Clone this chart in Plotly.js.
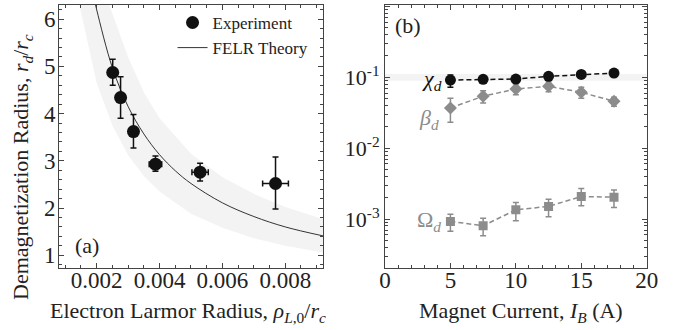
<!DOCTYPE html>
<html>
<head>
<meta charset="utf-8">
<script src="https://cdn.plot.ly/plotly-3.0.1.min.js"></script>
<style>html,body{margin:0;padding:0;background:#fff;}#chart{width:674px;height:330px;}</style>
</head>
<body>
<div id="chart"></div>
<script>
// ---- Panel (a) data ----
var expX = [0.00251, 0.00276, 0.00317, 0.00387, 0.00529, 0.00769];
var expY = [4.87, 4.34, 3.62, 2.93, 2.76, 2.52];
var expYplus = [0.28, 0.44, 0.36, 0.17, 0.19, 0.56];
var expYminus = [0.27, 0.44, 0.35, 0.15, 0.19, 0.54];
var expXerr = [0, 0, 0, 0.0002, 0.00026, 0.00041];

var theoryX = [0.0019, 0.002, 0.0025, 0.003, 0.0035, 0.004, 0.0045, 0.005, 0.006, 0.007, 0.008, 0.0092];
var theoryY = [6.5, 6.2, 4.97, 4.15, 3.57, 3.13, 2.79, 2.52, 2.11, 1.82, 1.6, 1.41];

var bandLowX = [0.00145, 0.002, 0.0025, 0.003, 0.0035, 0.004, 0.005, 0.006, 0.007, 0.008, 0.0092];
var bandLowY = [6.3, 4.65, 3.75, 3.12, 2.68, 2.35, 1.88, 1.58, 1.36, 1.2, 1.06];
var bandHighX = [0.0024, 0.003, 0.0035, 0.004, 0.005, 0.006, 0.007, 0.008, 0.0092];
var bandHighY = [6.3, 5.2, 4.45, 3.9, 3.15, 2.65, 2.3, 2.02, 1.77];

// ---- Panel (b) data ----
var current = [5, 7.5, 10, 12.5, 15, 17.5];
var chiY = [0.0916, 0.0937, 0.0946, 0.1033, 0.110, 0.1148];
var chiHi = [0.1077, 0.0937, 0.0946, 0.1033, 0.110, 0.1148];
var chiLo = [0.0723, 0.0937, 0.0946, 0.1033, 0.110, 0.1148];
var betaY = [0.0370, 0.0541, 0.0684, 0.0747, 0.0615, 0.0459];
var betaHi = [0.0507, 0.0649, 0.0805, 0.0867, 0.0723, 0.0524];
var betaLo = [0.0233, 0.0435, 0.0569, 0.0626, 0.0507, 0.0391];
var omegaY = [0.000928, 0.000805, 0.00135, 0.00151, 0.00208, 0.00204];
var omegaHi = [0.00117, 0.00103, 0.00172, 0.00191, 0.00270, 0.00258];
var omegaLo = [0.000671, 0.000582, 0.000946, 0.00108, 0.00154, 0.00146];
var chiBandX = [0, 20, 20, 0];
var chiBandY = [0.0896, 0.0896, 0.111, 0.111];

var yTickVals = [1, 0.1, 0.01, 0.001];
var yTickText = ['1', '10<sup>-1</sup>', '10<sup>-2</sup>', '10<sup>-3</sup>'];

var xTitleA = 'Electron Larmor Radius, <i>ρ</i><sub><i>L</i>,0</sub>/<i>r</i><sub><i>c</i></sub>';
var yTitleA = 'Demagnetization Radius, <i>r</i><sub><i>d</i></sub>/<i>r</i><sub><i>c</i></sub>';
var xTitleB = 'Magnet Current, <i>I</i><sub><i>B</i></sub> (A)';

function diff(a, b) { return a.map(function (v, i) { return Math.max(0, v - b[i]); }); }

var frame = '#444';
var grey = '#8c8c8c';
var serif = 'Liberation Serif';
var ink = '#222';

var bandPolyX = bandLowX.concat(bandHighX.slice().reverse());
var bandPolyY = bandLowY.concat(bandHighY.slice().reverse());

var traces = [
  {x: bandPolyX, y: bandPolyY, xaxis: 'x', yaxis: 'y', mode: 'lines', fill: 'toself',
   fillcolor: '#f3f3f3', line: {width: 0, color: 'rgba(0,0,0,0)'}, showlegend: false, hoverinfo: 'skip'},
  {x: theoryX, y: theoryY, xaxis: 'x', yaxis: 'y', mode: 'lines', name: 'FELR Theory',
   line: {color: '#333', width: 1, shape: 'spline'}},
  {x: expX, y: expY, xaxis: 'x', yaxis: 'y', mode: 'markers', name: 'Experiment',
   marker: {color: '#111', size: 13, symbol: 'circle'},
   error_y: {type: 'data', array: expYplus, arrayminus: expYminus, color: '#111', thickness: 1.5, width: 3},
   error_x: {type: 'data', array: expXerr, color: '#111', thickness: 1.5, width: 3}},
  // panel b
  {x: chiBandX, y: chiBandY, xaxis: 'x2', yaxis: 'y2', mode: 'lines', fill: 'toself',
   fillcolor: '#f3f3f3', line: {width: 0, color: 'rgba(0,0,0,0)'}, showlegend: false, hoverinfo: 'skip'},
  {x: current, y: omegaY, xaxis: 'x2', yaxis: 'y2', mode: 'lines+markers', showlegend: false,
   line: {color: grey, width: 1.5, dash: '5px,3px'},
   marker: {color: grey, size: 9, symbol: 'square'},
   error_y: {type: 'data', array: diff(omegaHi, omegaY), arrayminus: diff(omegaY, omegaLo), color: grey, thickness: 1.5, width: 3}},
  {x: current, y: betaY, xaxis: 'x2', yaxis: 'y2', mode: 'lines+markers', showlegend: false,
   line: {color: grey, width: 1.5, dash: '5px,3px'},
   marker: {color: grey, size: 10, symbol: 'diamond'},
   error_y: {type: 'data', array: diff(betaHi, betaY), arrayminus: diff(betaY, betaLo), color: grey, thickness: 1.5, width: 3}},
  {x: current, y: chiY, xaxis: 'x2', yaxis: 'y2', mode: 'lines+markers', showlegend: false,
   line: {color: '#111', width: 1.5, dash: '5px,3px'},
   marker: {color: '#111', size: 11, symbol: 'circle'},
   error_y: {type: 'data', array: diff(chiHi, chiY), arrayminus: diff(chiY, chiLo), color: '#111', thickness: 1.5, width: 3}}
];

function axisBase() {
  return {
    showline: true, linecolor: frame, linewidth: 1, mirror: 'allticks',
    ticks: 'inside', ticklen: 5, tickwidth: 1, tickcolor: frame,
    showgrid: false, zeroline: false, automargin: false,
    tickfont: {family: serif, size: 23, color: ink}
  };
}

var xa = Object.assign(axisBase(), {
  domain: [0.0875, 0.4792], range: [0.0008, 0.0092], anchor: 'y',
  tickmode: 'linear', tick0: 0, dtick: 0.002, ticklabelstandoff: -9,
  minor: {ticks: 'inside', ticklen: 3, tickcolor: frame, tick0: 0, dtick: 0.0005, showgrid: false}
});
var ya = Object.assign(axisBase(), {
  domain: [0.1879, 0.9848], range: [0.73, 6.3], anchor: 'x',
  tickmode: 'linear', tick0: 0, dtick: 1, ticklabelstandoff: -2,
  minor: {ticks: 'inside', ticklen: 3, tickcolor: frame, tick0: 0, dtick: 0.2, showgrid: false}
});
var xa2 = Object.assign(axisBase(), {
  domain: [0.5712, 0.9595], range: [0, 20], anchor: 'y2',
  tickmode: 'linear', tick0: 0, dtick: 5, ticklabelstandoff: -9,
  minor: {ticks: 'inside', ticklen: 3, tickcolor: frame, tick0: 0, dtick: 1, showgrid: false}
});
var ya2 = Object.assign(axisBase(), {
  domain: [0.1879, 0.9848], type: 'log', range: [-3.69, 0.02], anchor: 'x2',
  tickmode: 'array', tickvals: yTickVals, ticktext: yTickText,
  tickfont: {family: serif, size: 22, color: ink},
  minor: {ticks: 'inside', ticklen: 3, tickcolor: frame, dtick: 'D1', showgrid: false}
});

function note(o) {
  return Object.assign({showarrow: false, font: {family: serif, size: 22, color: ink}}, o);
}

var layout = {
  width: 674, height: 330,
  margin: {l: 0, r: 0, t: 0, b: 0},
  paper_bgcolor: '#fff', plot_bgcolor: '#fff',
  font: {family: serif, size: 20, color: ink},
  xaxis: xa, yaxis: ya, xaxis2: xa2, yaxis2: ya2,
  showlegend: true,
  legend: {x: 0.256, xanchor: 'left', y: 0.985, yanchor: 'top', bgcolor: 'rgba(0,0,0,0)',
           font: {family: serif, size: 17, color: ink}, itemwidth: 30, tracegroupgap: 0,
           traceorder: 'reversed'},
  annotations: [
    // axis titles
    note({xref: 'paper', yref: 'paper', x: 188 / 674, y: 1 - 312 / 330, xanchor: 'center', yanchor: 'middle', text: xTitleA}),
    note({xref: 'paper', yref: 'paper', x: 521 / 674, y: 1 - 312 / 330, xanchor: 'center', yanchor: 'middle', text: xTitleB}),
    note({xref: 'paper', yref: 'paper', x: 22 / 674, y: 1 - 167 / 330, xanchor: 'center', yanchor: 'middle', textangle: -90, text: yTitleA}),
    // panel labels
    note({xref: 'x domain', yref: 'y domain', x: 0.055, y: 0.084, xanchor: 'left', yanchor: 'middle', text: '(a)'}),
    note({xref: 'x2 domain', yref: 'y2 domain', x: 0.031, y: 0.924, xanchor: 'left', yanchor: 'middle', text: '(b)'}),
    // series labels
    note({xref: 'x2', yref: 'y2', x: 4.5, y: -1.038, xanchor: 'right', yanchor: 'middle',
          text: '<i>χ</i><sub><i>d</i></sub>', font: {family: serif, size: 22, color: '#111'}}),
    note({xref: 'x2', yref: 'y2', x: 4.3, y: -1.587, xanchor: 'right', yanchor: 'middle',
          text: '<i>β</i><sub><i>d</i></sub>', font: {family: serif, size: 22, color: grey}}),
    note({xref: 'x2', yref: 'y2', x: 4.4, y: -3.024, xanchor: 'right', yanchor: 'middle',
          text: 'Ω<sub><i>d</i></sub>', font: {family: serif, size: 22, color: grey}})
  ]
};

Plotly.newPlot('chart', traces, layout, {displayModeBar: false, staticPlot: true});
</script>
</body>
</html>
